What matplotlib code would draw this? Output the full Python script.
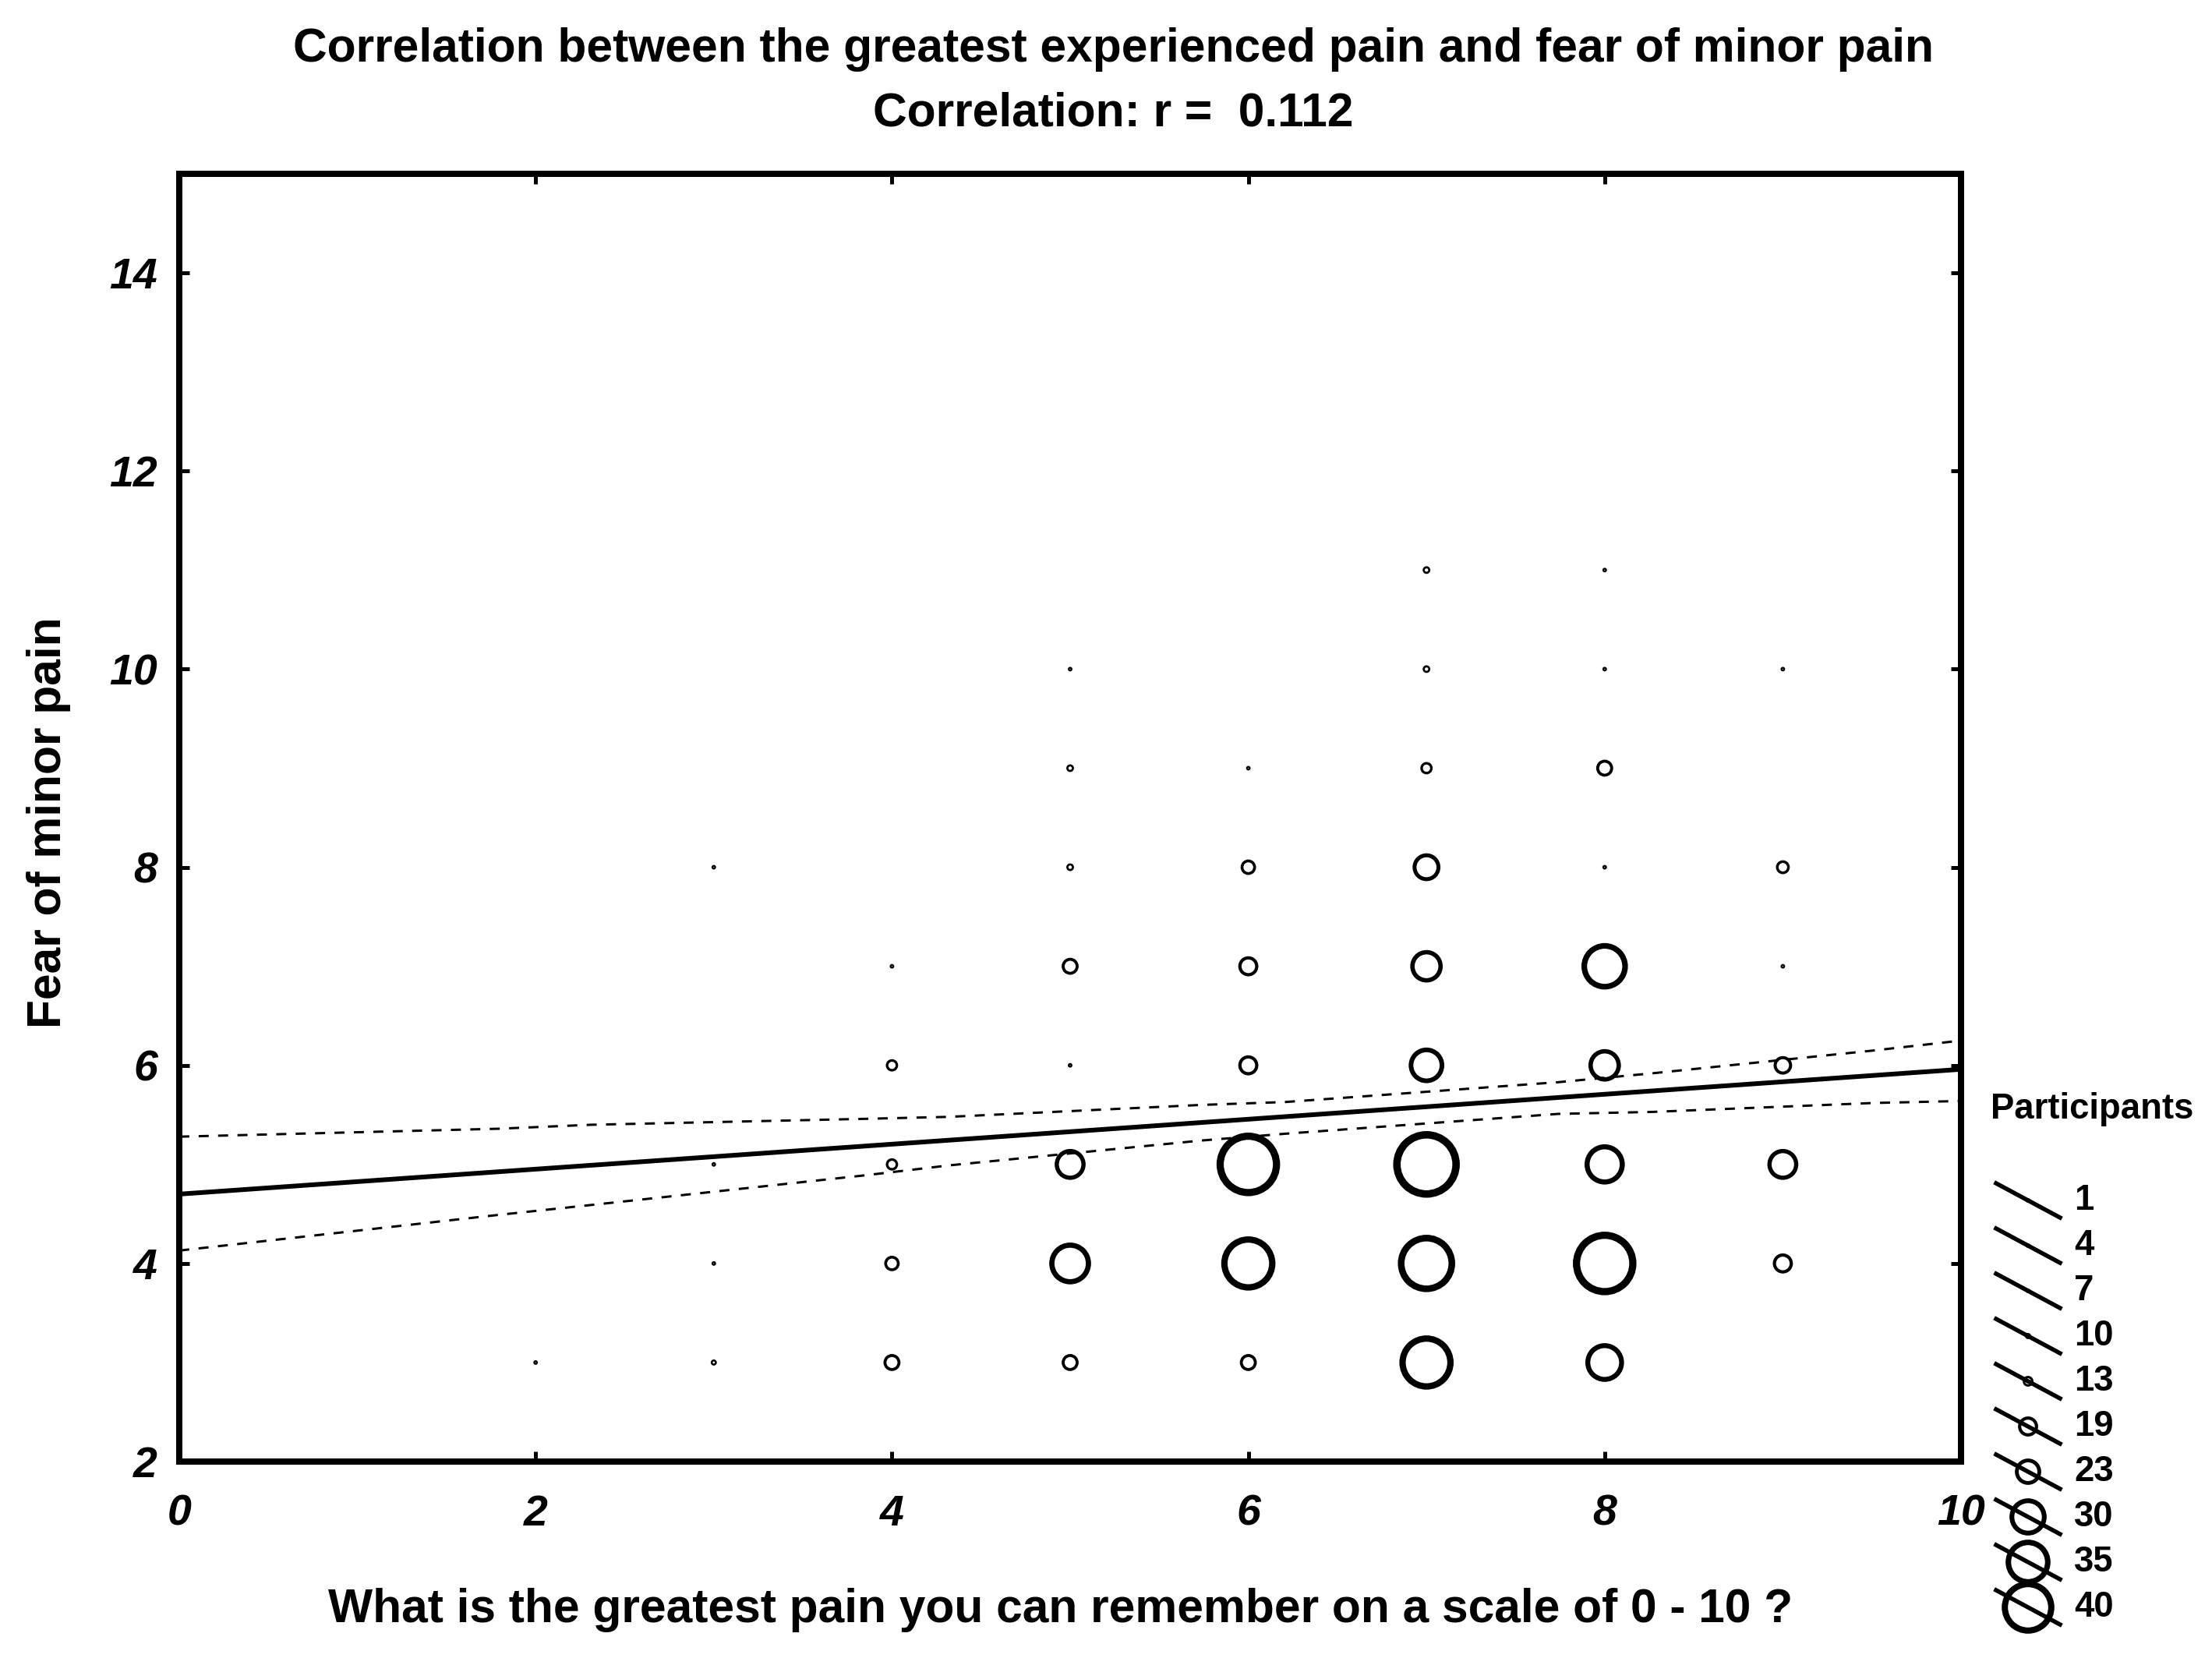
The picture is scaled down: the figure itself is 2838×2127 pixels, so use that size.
import numpy as np
import matplotlib
matplotlib.use('Agg')
import matplotlib.pyplot as plt

plt.rcParams['font.family'] = ['Liberation Sans', 'DejaVu Sans']

# pain score (x), fear of minor pain (y), number of participants at that cell
pain = [7, 8,
        5, 7, 8, 9,
        5, 6, 7, 8, 10,
        3, 5, 6, 7, 8, 9,
        4, 5, 6, 7, 8, 9,
        4, 5, 6, 7, 8, 9, 10,
        3, 4, 5, 6, 7, 8, 9, 10,
        3, 4, 5, 6, 7, 8, 9,
        2, 3, 4, 5, 6, 7, 8, 10]
fear = [11, 11,
        10, 10, 10, 10,
        9, 9, 9, 9, 9,
        8, 8, 8, 8, 8, 8,
        7, 7, 7, 7, 7, 7,
        6, 6, 6, 6, 6, 6, 6,
        5, 5, 5, 5, 5, 5, 5, 5,
        4, 4, 4, 4, 4, 4, 4,
        3, 3, 3, 3, 3, 3, 3, 3]
counts = [11, 6,
          6, 11, 6, 8,
          11, 8, 14, 17, 7,
          7, 11, 16, 24, 6, 15,
          6, 17, 19, 27, 36, 8,
          14, 8, 19, 29, 27, 18, 8,
          7, 14, 26, 47, 49, 32, 26, 6,
          8, 16, 33, 41, 43, 47, 19,
          6, 10, 17, 17, 17, 41, 31, 6]

# regression line and 95% band
fit_x = [0, 10]
fit_y = [4.70, 5.96]
band_x = [0, 1.79, 2.31, 3.85, 4.32, 5.73, 6.21, 7.74, 8.27, 9.51, 10]
band_upper = [5.28, 5.36, 5.40, 5.46, 5.48, 5.60, 5.63, 5.83, 5.92, 6.15, 6.25]
band_lower = [4.13, 4.49, 4.59, 4.89, 4.99, 5.24, 5.31, 5.51, 5.53, 5.62, 5.64]

legend_counts = [1, 4, 7, 10, 13, 19, 23, 30, 35, 40]

W, H, DPI = 2838, 2127, 200
PT = 72 / DPI  # pixel -> point


def bubble_px(n):
    n = np.asarray(n, dtype=float)
    return 3.5 + 1.81 * np.clip(n - 9, 0, None)


def bubble_style(n):
    d = bubble_px(n)
    return (d * PT) ** 2, (2.0 + d / 10) * PT


fig = plt.figure(figsize=(W / DPI, H / DPI), dpi=DPI)
ax = fig.add_axes([230 / W, 1 - 1875 / H, (2516 - 230) / W, (1875 - 223) / H])

ax.plot(fit_x, fit_y, color='black', lw=6 * PT, zorder=3)
ax.plot(band_x, band_upper, color='black', lw=3 * PT, ls=(0, (4.3, 4)), zorder=3)
ax.plot(band_x, band_lower, color='black', lw=3 * PT, ls=(0, (4.3, 4)), zorder=3)

sizes, widths = bubble_style(counts)
ax.scatter(pain, fear, s=sizes, facecolors='none', edgecolors='black',
           linewidths=widths, zorder=4)

ax.set_xlim(0, 10)
ax.set_ylim(2, 15)
ax.set_xticks(range(0, 11, 2))
ax.set_yticks(range(2, 15, 2))
ax.tick_params(direction='in', length=13 * PT, width=5 * PT, top=True, right=True,
               labelsize=20)
ax.tick_params(axis='x', pad=15)
ax.tick_params(axis='y', pad=10)
for lab in ax.get_xticklabels() + ax.get_yticklabels():
    lab.set_fontweight('bold')
    lab.set_fontstyle('italic')
for sp in ax.spines.values():
    sp.set_linewidth(8 * PT)

fig.text(1428 / W, 1 - 63 / H,
         'Correlation between the greatest experienced pain and fear of minor pain',
         ha='center', va='center', fontsize=21.8, fontweight='bold')
fig.text(1428 / W, 1 - 146 / H, 'Correlation: r =  0.112',
         ha='center', va='center', fontsize=21.8, fontweight='bold')
fig.text(1361 / W, 1 - 2065 / H,
         'What is the greatest pain you can remember on a scale of 0 - 10 ?',
         ha='center', va='center', fontsize=21.8, fontweight='bold')
fig.text(63 / W, 1 - 1055 / H, 'Fear of minor pain', rotation=90,
         ha='center', va='center', fontsize=21.8, fontweight='bold')

# bubble size legend
lax = fig.add_axes([0, 0, 1, 1], zorder=5)
lax.set_xlim(0, W)
lax.set_ylim(H, 0)
lax.axis('off')
lax.text(2554, 1423, 'Participants', ha='left', va='center',
         fontsize=16.4, fontweight='bold')
leg_y = 1540 + 58 * np.arange(len(legend_counts))
lsizes, lwidths = bubble_style(legend_counts)
for i, n in enumerate(legend_counts):
    yc = leg_y[i]
    lax.plot([2561, 2643], [yc - 22, yc + 22], color='black', lw=5.5 * PT)
    lax.text(2661, yc, str(n), ha='left', va='center', fontsize=16.4,
             fontweight='bold')
lax.scatter([2602] * len(legend_counts), leg_y, s=lsizes, facecolors='none',
            edgecolors='black', linewidths=lwidths)

fig.savefig('out.png', dpi=DPI)
